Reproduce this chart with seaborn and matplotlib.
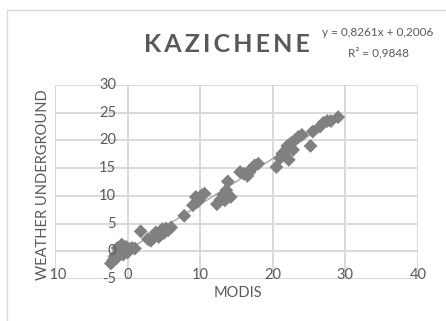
import matplotlib
matplotlib.use("Agg")
import matplotlib.pyplot as plt
import matplotlib.patches as mpatches
import numpy as np
import pandas as pd
import seaborn as sns

# data
modis = [-2.3, -2.0, -1.8, -1.5, -1.2, -1.0, -0.8, -1.4, -0.5, -0.2, 0.0, 0.3, 0.6, -0.6, 1.0,
         1.8,
         2.8, 3.2, 3.6, 4.0, 4.3, 4.6, 5.0, 5.3, 5.6, 6.0, 4.8, 3.9,
         7.8,
         9.0, 9.4, 9.8, 10.2, 10.6, 9.6,
         12.3, 12.8, 13.2, 13.6, 13.8, 14.2, 13.4,
         15.5, 16.0, 16.5, 17.0, 17.5, 18.0, 16.8,
         20.5, 21.0, 21.3, 21.8, 22.2, 22.0, 22.5, 23.0, 23.5, 24.0, 22.8,
         25.2,
         25.5, 26.5, 27.0, 27.5, 28.0, 29.0]
weather = [-2.2, -1.6, -0.9, -1.2, -0.5, 0.0, 1.2, 0.6, 0.3, 0.8, -0.2, 0.4, 0.6, -0.6, 0.5,
           3.6,
           2.2, 1.9, 2.5, 3.0, 2.6, 3.6, 3.3, 4.1, 3.8, 4.3, 4.0, 3.4,
           6.4,
           8.3, 9.8, 9.2, 10.1, 10.4, 8.9,
           8.5, 9.3, 10.2, 11.0, 12.6, 9.8, 9.2,
           14.3, 14.0, 13.6, 14.8, 15.5, 15.8, 14.3,
           15.2, 16.8, 17.6, 18.2, 16.5, 19.0, 19.5, 20.0, 20.6, 21.0, 18.3,
           19.0,
           21.6, 22.5, 23.2, 23.5, 23.5, 24.2]

slope = 0.8261
intercept = 0.2006
r_squared = 0.9848

x_ticks = [-10, 0, 10, 20, 30, 40]
y_ticks = [-5, 0, 5, 10, 15, 20, 25, 30]

GRID = '#d9d9d9'
TEXT = '#595959'
MARK = '#808080'
FONT = ['Lato', 'DejaVu Sans']

sns.set_theme(style='white')
plt.rcParams['font.family'] = FONT

W, H = 446, 321
fig = plt.figure(figsize=(W / 100, H / 100), dpi=100)
ax = fig.add_axes([55 / W, (H - 279) / H, (418 - 55) / W, (279 - 85) / H])

df = pd.DataFrame({'MODIS': modis, 'WU': weather})
trend_x = np.array([min(modis), max(modis)])
trend = pd.DataFrame({'x': trend_x, 'y': slope * trend_x + intercept})

sns.lineplot(data=trend, x='x', y='y', color='#a6a6a6', linewidth=1.0, ax=ax, zorder=2)
sns.scatterplot(data=df, x='MODIS', y='WU', marker='D', color=MARK, s=50,
                edgecolor='none', ax=ax, zorder=3)

ax.set_xlim(-10, 40)
ax.set_ylim(-5, 30)
ax.set_xticks(x_ticks)
ax.set_yticks(y_ticks)
ax.grid(True, color=GRID, linewidth=1.4)
ax.set_axisbelow(True)
for s in ax.spines.values():
    s.set_visible(False)
ax.tick_params(length=0, labelbottom=False, labelleft=False)
ax.set_xlabel('')
ax.set_ylabel('')

# tick labels placed next to the axes that cross at x=0
for v in y_ticks:
    ax.text(-1.6, v, str(v), ha='right', va='center', fontsize=10.5, color=TEXT)
for v in x_ticks:
    ax.text(v, -4.2, str(v), ha='center', va='center', fontsize=10.5, color=TEXT,
            zorder=1)

fig.text(238 / W, 1 - 293 / H, 'MODIS', ha='center', va='center', fontsize=10.5, color=TEXT)
# axis title sits on top of the -10 label, as in the original chart
fig.text(43 / W, 1 - 185 / H, 'WEATHER UNDERGROUND', rotation=90, ha='center',
         va='center', fontsize=10.5, color=TEXT, zorder=10,
         bbox=dict(facecolor='white', edgecolor='none', pad=0.3))

fig.text(227 / W, 1 - 45 / H, 'K A Z I C H E N E'.replace(' ', '\u2009'), ha='center',
         va='center', fontsize=18, fontweight='bold', color=TEXT)
fig.text(378 / W, 1 - 33 / H, f'y = {slope:.4f}x + {intercept:.4f}'.replace('.', ','),
         ha='center', va='center', fontsize=8.5, color=TEXT)
fig.text(378 / W, 1 - 53 / H, f'R² = {r_squared:.4f}'.replace('.', ','),
         ha='center', va='center', fontsize=8.5, color=TEXT)

# chart frame
fig.patches.append(mpatches.Rectangle((7 / W, -0.1), 1.2, 1.1 - 10 / H,
                                      transform=fig.transFigure, fill=False,
                                      edgecolor=GRID, linewidth=1.0))

fig.savefig('out.png', dpi=100)
